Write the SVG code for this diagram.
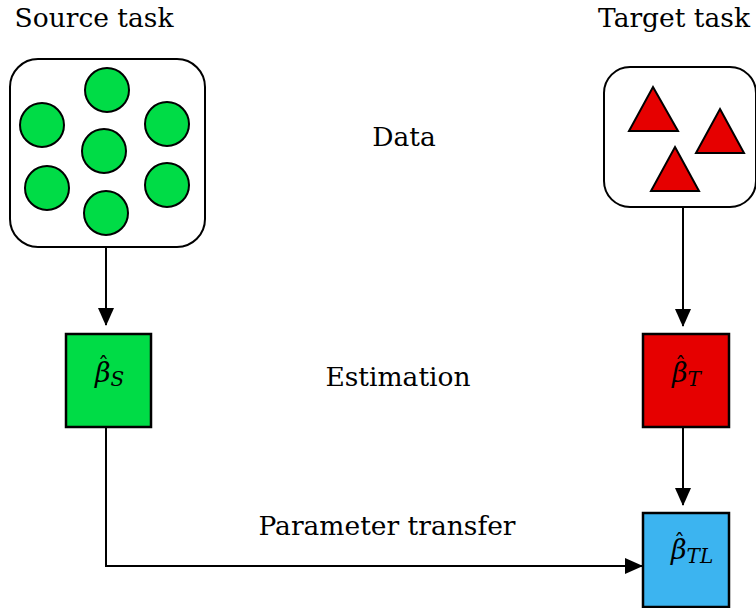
<svg xmlns="http://www.w3.org/2000/svg" width="756" height="608" viewBox="0 0 756 608">
  <style>
    .lbl { font-family: "DejaVu Serif", "Liberation Serif", serif; font-size: 26.5px; fill: #000; }
    .math { font-family: "DejaVu Serif", "Liberation Serif", serif; font-style: italic; font-size: 27px; fill: #000; }
    .hat { font-style: normal; font-size: 22px; }
    .sub { font-size: 20px; }
    .frame { fill: #fff; stroke: #000; stroke-width: 2; }
    .dot { fill: #00dc46; stroke: #000; stroke-width: 2; }
    .tri { fill: #e60000; stroke: #000; stroke-width: 2; stroke-linejoin: miter; }
    .box { stroke: #000; stroke-width: 2.5; }
    .wire { fill: none; stroke: #000; stroke-width: 2; }
  </style>
  <defs>
    <marker id="head" viewBox="0 0 18 16" refX="17" refY="8" markerWidth="18" markerHeight="16" markerUnits="userSpaceOnUse" orient="auto">
      <path d="M0,0 L18,8 L0,16 z" fill="#000"/>
    </marker>
  </defs>
  <rect width="756" height="608" fill="#fff"/>

  <!-- column and row captions -->
  <text class="lbl" x="94" y="27" text-anchor="middle">Source task</text>
  <text class="lbl" x="674" y="27" text-anchor="middle">Target task</text>
  <text class="lbl" x="404" y="146" text-anchor="middle">Data</text>
  <text class="lbl" x="398" y="386" text-anchor="middle">Estimation</text>
  <text class="lbl" x="387" y="535" text-anchor="middle">Parameter transfer</text>

  <!-- source data: points -->
  <g id="source-data">
    <rect class="frame" x="10" y="59" width="195" height="188" rx="28" ry="28"/>
    <circle class="dot" cx="107" cy="90" r="22"/>
    <circle class="dot" cx="42" cy="125" r="22"/>
    <circle class="dot" cx="167" cy="124" r="22"/>
    <circle class="dot" cx="104" cy="151" r="22"/>
    <circle class="dot" cx="47" cy="188" r="22"/>
    <circle class="dot" cx="167" cy="185" r="22"/>
    <circle class="dot" cx="106" cy="213" r="22"/>
  </g>

  <!-- target data: triangles -->
  <g id="target-data">
    <rect class="frame" x="604" y="67" width="152" height="140" rx="26" ry="26"/>
    <polygon class="tri" points="653,87 678,131 629,131"/>
    <polygon class="tri" points="720,109 744,153 696,153"/>
    <polygon class="tri" points="675,147 699,191 651,191"/>
  </g>

  <!-- estimates: beta, hat accent shifted back over it, then the subscript -->
  <g id="beta-s">
    <rect class="box" x="66" y="334" width="85" height="93" fill="#00dc46"/>
    <text class="math" x="95" y="382">β<tspan class="hat" dx="-12.5" dy="-9">ˆ</tspan><tspan class="sub" dx="1.5" dy="13">S</tspan></text>
  </g>
  <g id="beta-t">
    <rect class="box" x="643" y="334" width="86" height="93" fill="#e60000"/>
    <text class="math" x="672" y="382">β<tspan class="hat" dx="-12.5" dy="-9">ˆ</tspan><tspan class="sub" dx="1.5" dy="13">T</tspan></text>
  </g>
  <g id="beta-tl">
    <rect class="box" x="643" y="513" width="86" height="94" fill="#3cb4f0"/>
    <text class="math" x="671" y="559">β<tspan class="hat" dx="-12.5" dy="-9">ˆ</tspan><tspan class="sub" dx="1.5" dy="13">TL</tspan></text>
  </g>

  <!-- connectors -->
  <g id="connectors">
    <line class="wire" x1="106" y1="247" x2="106" y2="325" marker-end="url(#head)"/>
    <line class="wire" x1="683" y1="207" x2="683" y2="326" marker-end="url(#head)"/>
    <line class="wire" x1="683" y1="427" x2="683" y2="505" marker-end="url(#head)"/>
    <polyline class="wire" points="106,427 106,566 642,566" marker-end="url(#head)"/>
  </g>
</svg>
